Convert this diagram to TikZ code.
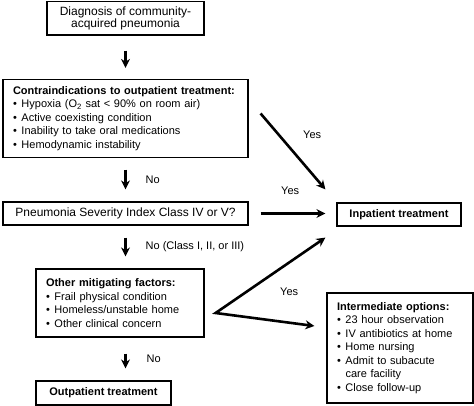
\documentclass[tikz,border=0pt]{standalone}
\usepackage{fontspec}
\setmainfont{Liberation Sans}
\usetikzlibrary{arrows.meta}
\newcommand{\itm}[1]{\makebox[8.5pt][l]{\textbullet}#1}
\newcommand{\cnt}{\hspace*{8.5pt}}
\begin{document}
\begin{tikzpicture}[x=1pt,y=-1pt,
  box/.style={draw,line width=1.2pt,inner sep=0pt,font=\fontsize{11}{13.5}\selectfont},
  big/.style={font=\fontsize{12}{12.5}\selectfont},
  arr/.style={line width=2.6pt,-{Stealth[length=9pt,width=9pt]}},
  lbl/.style={anchor=west,inner sep=0pt,font=\fontsize{11}{13}\selectfont}]
\useasboundingbox (0,0) rectangle (474,406);
\node[box,big,minimum width=157pt,minimum height=33.5pt,align=center] (diag) at (125.5,18.25) {Diagnosis of community-\\acquired pneumonia};
\node[box,minimum width=245pt,minimum height=78pt,text width=225pt,align=left] (contra) at (125.5,118.5) {\textbf{Contraindications to outpatient treatment:}\\\itm{Hypoxia (O\textsubscript{2} sat < 90\% on room air)}\\\itm{Active coexisting condition}\\\itm{Inability to take oral medications}\\\itm{Hemodynamic instability}};
\node[box,big,minimum width=245pt,minimum height=23pt] (psi) at (125.5,213.5) {Pneumonia Severity Index Class IV or V?};
\node[box,minimum width=168pt,minimum height=68pt,text width=148pt,align=left] (other) at (120,303) {\textbf{Other mitigating factors:}\\\itm{Frail physical condition}\\\itm{Homeless/unstable home}\\\itm{Other clinical concern}};
\node[box,minimum width=135pt,minimum height=24pt] (outp) at (103.5,393) {\textbf{Outpatient treatment}};
\node[box,minimum width=124pt,minimum height=23pt] (inpat) at (399,214.5) {\textbf{Inpatient treatment}};
\node[box,minimum width=146pt,minimum height=110pt,text width=126pt,align=left] (interm) at (400,348) {\textbf{Intermediate options:}\\\itm{23 hour observation}\\\itm{IV antibiotics at home}\\\itm{Home nursing}\\\itm{Admit to subacute}\\\cnt care facility\\\itm{Close follow-up}};
\coordinate (fork) at ([xshift=11pt,yshift=-10pt]other.east);
\draw[arr,shorten <=15pt,shorten >=11pt] (diag.south) -- (contra.north);
\draw[arr,shorten <=11.5pt,shorten >=12pt] (contra.south) -- (psi.north);
\draw[arr,shorten <=12pt,shorten >=12pt] (psi.south) -- (psi.south |- other.north);
\draw[arr,shorten <=16pt,shorten >=12pt] (psi.south |- other.south) -- (psi.south |- outp.north);
\draw[arr] ([xshift=12pt,yshift=5pt]contra.east) -- ([xshift=-11pt,yshift=13pt]inpat.north west);
\draw[arr,shorten <=12pt,shorten >=11pt] (psi.east) -- (psi.east -| inpat.west);
\draw[line width=2.6pt,{Stealth[length=9pt,width=9pt]}-{Stealth[length=9pt,width=9pt]}] ([xshift=-11pt,yshift=-11pt]inpat.south west) -- (fork) -- ([xshift=-12pt,yshift=22pt]interm.west);
\node[lbl] (no1) at (145.5,180) {No};
\node[lbl] (no2) at (145.5,247) {No (Class I, II, or III)};
\node[lbl] (no3) at (146.5,359) {No};
\node[lbl] (yes1) at (303,135) {Yes};
\node[lbl] (yes2) at (281,191) {Yes};
\node[lbl] (yes3) at (280,292) {Yes};
\end{tikzpicture}
\end{document}
